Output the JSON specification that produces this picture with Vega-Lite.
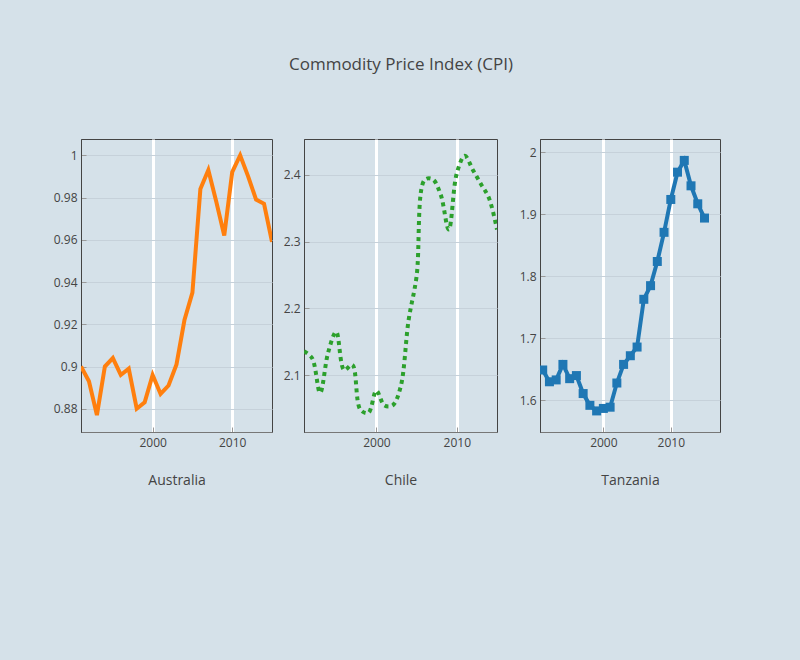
{
  "$schema": "https://vega.github.io/schema/vega-lite/v6.json",
  "background": "#d5e1e9",
  "padding": {"left": 40, "top": 55, "right": 80, "bottom": 176},
  "spacing": 0,
  "title": {"text": "Commodity Price Index (CPI)", "font": "Open Sans", "fontSize": 17, "fontWeight": "normal", "color": "#444", "anchor": "middle", "frame": "group", "dx": 320, "offset": 52, "baseline": "alphabetic"},
  "datasets": {
    "cpi": [
      {"country": "Australia", "year": 1991, "cpi": 0.900}, {"country": "Australia", "year": 1992, "cpi": 0.893}, {"country": "Australia", "year": 1993, "cpi": 0.877}, {"country": "Australia", "year": 1994, "cpi": 0.900}, {"country": "Australia", "year": 1995, "cpi": 0.904}, {"country": "Australia", "year": 1996, "cpi": 0.896}, {"country": "Australia", "year": 1997, "cpi": 0.899}, {"country": "Australia", "year": 1998, "cpi": 0.880}, {"country": "Australia", "year": 1999, "cpi": 0.883}, {"country": "Australia", "year": 2000, "cpi": 0.896}, {"country": "Australia", "year": 2001, "cpi": 0.887}, {"country": "Australia", "year": 2002, "cpi": 0.891}, {"country": "Australia", "year": 2003, "cpi": 0.901}, {"country": "Australia", "year": 2004, "cpi": 0.922}, {"country": "Australia", "year": 2005, "cpi": 0.935}, {"country": "Australia", "year": 2006, "cpi": 0.984}, {"country": "Australia", "year": 2007, "cpi": 0.993}, {"country": "Australia", "year": 2008, "cpi": 0.978}, {"country": "Australia", "year": 2009, "cpi": 0.962}, {"country": "Australia", "year": 2010, "cpi": 0.992}, {"country": "Australia", "year": 2011, "cpi": 1.000}, {"country": "Australia", "year": 2012, "cpi": 0.990}, {"country": "Australia", "year": 2013, "cpi": 0.979}, {"country": "Australia", "year": 2014, "cpi": 0.977}, {"country": "Australia", "year": 2015, "cpi": 0.959},
      {"country": "Chile", "year": 1991, "cpi": 2.136}, {"country": "Chile", "year": 1992, "cpi": 2.126}, {"country": "Chile", "year": 1993, "cpi": 2.074}, {"country": "Chile", "year": 1994, "cpi": 2.134}, {"country": "Chile", "year": 1995, "cpi": 2.165}, {"country": "Chile", "year": 1996, "cpi": 2.108}, {"country": "Chile", "year": 1997, "cpi": 2.116}, {"country": "Chile", "year": 1998, "cpi": 2.049}, {"country": "Chile", "year": 1999, "cpi": 2.044}, {"country": "Chile", "year": 2000, "cpi": 2.077}, {"country": "Chile", "year": 2001, "cpi": 2.055}, {"country": "Chile", "year": 2002, "cpi": 2.055}, {"country": "Chile", "year": 2003, "cpi": 2.082}, {"country": "Chile", "year": 2004, "cpi": 2.182}, {"country": "Chile", "year": 2005, "cpi": 2.248}, {"country": "Chile", "year": 2006, "cpi": 2.392}, {"country": "Chile", "year": 2007, "cpi": 2.393}, {"country": "Chile", "year": 2008, "cpi": 2.370}, {"country": "Chile", "year": 2009, "cpi": 2.318}, {"country": "Chile", "year": 2010, "cpi": 2.402}, {"country": "Chile", "year": 2011, "cpi": 2.428}, {"country": "Chile", "year": 2012, "cpi": 2.407}, {"country": "Chile", "year": 2013, "cpi": 2.386}, {"country": "Chile", "year": 2014, "cpi": 2.365}, {"country": "Chile", "year": 2015, "cpi": 2.318},
      {"country": "Tanzania", "year": 1991, "cpi": 1.649}, {"country": "Tanzania", "year": 1992, "cpi": 1.630}, {"country": "Tanzania", "year": 1993, "cpi": 1.633}, {"country": "Tanzania", "year": 1994, "cpi": 1.658}, {"country": "Tanzania", "year": 1995, "cpi": 1.635}, {"country": "Tanzania", "year": 1996, "cpi": 1.640}, {"country": "Tanzania", "year": 1997, "cpi": 1.611}, {"country": "Tanzania", "year": 1998, "cpi": 1.592}, {"country": "Tanzania", "year": 1999, "cpi": 1.583}, {"country": "Tanzania", "year": 2000, "cpi": 1.587}, {"country": "Tanzania", "year": 2001, "cpi": 1.589}, {"country": "Tanzania", "year": 2002, "cpi": 1.628}, {"country": "Tanzania", "year": 2003, "cpi": 1.658}, {"country": "Tanzania", "year": 2004, "cpi": 1.672}, {"country": "Tanzania", "year": 2005, "cpi": 1.686}, {"country": "Tanzania", "year": 2006, "cpi": 1.763}, {"country": "Tanzania", "year": 2007, "cpi": 1.785}, {"country": "Tanzania", "year": 2008, "cpi": 1.824}, {"country": "Tanzania", "year": 2009, "cpi": 1.871}, {"country": "Tanzania", "year": 2010, "cpi": 1.924}, {"country": "Tanzania", "year": 2011, "cpi": 1.968}, {"country": "Tanzania", "year": 2012, "cpi": 1.987}, {"country": "Tanzania", "year": 2013, "cpi": 1.946}, {"country": "Tanzania", "year": 2014, "cpi": 1.917}, {"country": "Tanzania", "year": 2015, "cpi": 1.894}
    ]
  },
  "hconcat": [
    {
      "width": 191, "height": 293,
      "data": {"name": "cpi"},
      "transform": [{"filter": "datum.country == 'Australia'"}],
      "mark": {"type": "line", "color": "#ff7f0e", "strokeWidth": 4, "clip": true},
      "encoding": {
        "x": {"field": "year", "type": "quantitative", "title": "Australia",
              "scale": {"domain": [1991, 2015], "nice": false, "zero": false},
              "axis": {"values": [2000, 2010], "format": "d"}},
        "y": {"field": "cpi", "type": "quantitative", "title": null,
              "scale": {"domain": [0.869, 1.0077], "nice": false, "zero": false},
              "axis": {"values": [0.88, 0.9, 0.92, 0.94, 0.96, 0.98, 1], "format": "~g", "minExtent": 40}}
      }
    },
    {
      "width": 193, "height": 293,
      "data": {"name": "cpi"},
      "transform": [{"filter": "datum.country == 'Chile'"}],
      "mark": {"type": "line", "color": "#2ca02c", "strokeWidth": 4, "strokeDash": [4, 4], "strokeCap": "butt", "interpolate": "catmull-rom", "clip": true},
      "encoding": {
        "x": {"field": "year", "type": "quantitative", "title": "Chile",
              "scale": {"domain": [1991, 2015], "nice": false, "zero": false},
              "axis": {"values": [2000, 2010], "format": "d"}},
        "y": {"field": "cpi", "type": "quantitative", "title": null,
              "scale": {"domain": [2.0154, 2.4532], "nice": false, "zero": false},
              "axis": {"values": [2.1, 2.2, 2.3, 2.4], "format": "~g", "minExtent": 30}}
      }
    },
    {
      "width": 180, "height": 293,
      "data": {"name": "cpi"},
      "transform": [{"filter": "datum.country == 'Tanzania'"}],
      "mark": {"type": "line", "color": "#1f77b4", "strokeWidth": 4, "clip": true,
               "point": {"shape": "square", "size": 81, "filled": true, "color": "#1f77b4", "opacity": 1}},
      "encoding": {
        "x": {"field": "year", "type": "quantitative", "title": "Tanzania",
              "scale": {"domain": [1990.6, 2017.3], "nice": false, "zero": false},
              "axis": {"values": [2000, 2010], "format": "d"}},
        "y": {"field": "cpi", "type": "quantitative", "title": null,
              "scale": {"domain": [1.549, 2.0215], "nice": false, "zero": false},
              "axis": {"values": [1.6, 1.7, 1.8, 1.9, 2], "format": "~g", "minExtent": 41}}
      }
    }
  ],
  "config": {
    "view": {"stroke": "#444", "strokeWidth": 1},
    "axis": {
      "labelFont": "Open Sans", "labelFontSize": 12, "labelColor": "#444",
      "titleFont": "Open Sans", "titleFontSize": 14, "titleColor": "#444", "titleFontWeight": "normal",
      "tickSize": -5, "tickColor": "#999", "tickWidth": 1, "labelPadding": 10
    },
    "axisX": {"grid": true, "gridColor": "#ffffff", "gridWidth": 3, "gridOpacity": 1, "domainColor": "#777", "domainWidth": 1, "titlePadding": 25},
    "axisY": {"grid": true, "gridColor": "#c6d1da", "gridWidth": 1, "gridOpacity": 1, "domainColor": "#444", "domainWidth": 1, "labelPadding": 9}
  }
}
